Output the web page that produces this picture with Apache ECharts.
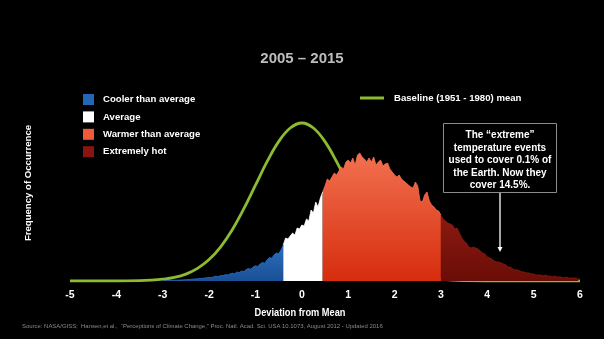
<!DOCTYPE html>
<html>
<head>
<meta charset="utf-8">
<script src="https://cdn.jsdelivr.net/npm/echarts@6/dist/echarts.min.js"></script>
<style>
html,body{margin:0;padding:0;background:#000;}
#c{width:604px;height:339px;}
</style>
</head>
<body>
<div id="c"></div>
<script>
// ---------- data ----------
const titleText = '2005 \u2013 2015';
const xTicks = [-5, -4, -3, -2, -1, 0, 1, 2, 3, 4, 5, 6];
const categoryNames = ['Cooler than average', 'Average', 'Warmer than average', 'Extremely hot'];
const baselineName = 'Baseline (1951 - 1980) mean';
// category boundaries (deviation from mean)
const coolEnd = -0.4, averageEnd = 0.45, warmEnd = 3.0;

// 2005-2015 frequency, sampled every 0.05 from -3.00 to 6.00
const devStart = -3.0, devStep = 0.05;
const freq2005 = [
  0.5,0.5,0.6,0.6,0.7,0.8,0.8,0.9,1.0,1.2,1.3,1.5,1.6,1.8,2.0,2.2,2.6,2.4,3.0,3.2,
  3.6,3.4,4.2,4.8,4.4,5.6,5.2,6.4,6.0,7.0,7.8,7.2,9.0,8.4,10.0,9.4,11.5,12.5,11.8,14.0,
  15.2,14.6,17.0,18.5,17.8,21.0,23.5,22.8,26.0,28.0,27.2,31.0,36.0,43.0,42.0,45.0,48.0,46.0,53.0,52.0,
  56,55,62,60,71,68,79,74,83,89,95,102,100,104,108,106,110,114,112,119,
  121,118,123,116,126,128,124,122,119,123,119,124,116,119,121,115,117,118,112,109,
  106,104,106,102,100,98,96,94,93,99,95,80,79,86,89,80,76,74,71,70,
  66,62,60,58,57,56,52,53,48,43,40,38,34,33,34,33,32,30,28,27,
  24,23,22,20,19,19,18,17,16,14,14,12,11,11,10,9,9,8,8,7,
  7,6,6,6,5,6,5,5,4,5,4,4,4,3,4,3,3,3,3,2,
  2
];

// baseline (1951-1980) curve
const baseDev = [-5,-4.5,-4,-3.5,-3.25,-3,-2.75,-2.5,-2.25,-2,-1.75,-1.5,-1.25,-1,-0.75,-0.5,-0.25,0,
                 0.25,0.5,0.75,1,1.25,1.5,1.75,2,2.25,2.5,2.75,3,3.25,3.5,4,4.5,5,6];
const baseFreq = [0,0,0,0.3,0.8,1.8,3.6,6.9,12.6,21.4,34.2,51.3,72.3,95.8,119.3,139.4,153,158,
                  153,139.4,119.3,95.8,72.3,51.3,34.2,21.4,12.6,6.9,3.6,1.8,0.8,0.3,0,0,0,0];

const xName = 'Deviation from Mean';
const yName = 'Frequency of Occurrence';
const sourceText = 'Source: NASA/GISS;  Hansen,et al.,  \u201cPerceptions of Climate Change,\u201d Proc. Natl. Acad. Sci. USA 10.1073, August 2012 - Updated 2016';
const noteLines = ['The \u201cextreme\u201d', 'temperature events', 'used to cover 0.1% of', 'the Earth. Now they', 'cover 14.5%.'];

// ---------- build ----------
const pts = freq2005.map((v, i) => [Math.round((devStart + i * devStep) * 100) / 100, v]);
const seg = (lo, hi) => pts.filter(p => p[0] >= lo - 1e-6 && p[0] <= hi + 1e-6);
const basePts = baseDev.map((d, i) => [d, baseFreq[i]]);

const FONT = "'Liberation Sans',Arial,sans-serif";
const grad = (a, b) => new echarts.graphic.LinearGradient(0, 0, 0, 1, [{offset: 0, color: a}, {offset: 1, color: b}]);
const areaSeries = (name, data, top, bot, solid) => ({
  name, type: 'line', data, showSymbol: false, symbol: 'none', z: 3,
  lineStyle: {width: 0.8, color: top},
  itemStyle: {color: solid},
  areaStyle: {color: grad(top, bot), opacity: 1},
  emphasis: {disabled: true}, animation: false
});

const chart = echarts.init(document.getElementById('c'), null, {renderer: 'canvas'});
chart.setOption({
  backgroundColor: '#000',
  animation: false,
  title: {
    text: titleText, left: 'center', top: 46,
    textStyle: {color: '#bdbdbd', fontSize: 15, fontWeight: 'bold', fontFamily: FONT}
  },
  legend: [
    {
      data: categoryNames, orient: 'vertical', left: 83, top: 94, padding: 0,
      icon: 'rect', itemWidth: 11, itemHeight: 11, itemGap: 6.4, selectedMode: false,
      textStyle: {color: '#fff', fontSize: 9.6, fontWeight: 'bold', fontFamily: FONT, padding: [0, 0, 0, 4]}
    },
    {
      data: [baselineName], left: 360, top: 93, padding: 0,
      icon: 'rect', itemWidth: 24, itemHeight: 3, selectedMode: false,
      textStyle: {color: '#fff', fontSize: 9.6, fontWeight: 'bold', fontFamily: FONT, padding: [0, 0, 0, 5]}
    }
  ],
  grid: {left: 70, right: 24, top: 121, bottom: 58},
  xAxis: {
    type: 'value', min: -5, max: 6, interval: 1,
    axisLine: {show: false}, axisTick: {show: false}, splitLine: {show: false},
    axisLabel: {color: '#fff', fontSize: 10.5, fontWeight: 'bold', fontFamily: FONT, margin: 9,
      formatter: v => xTicks.includes(v) ? String(v) : ''}
  },
  yAxis: {
    type: 'value', min: 0, max: 160, show: false
  },
  series: [
    {
      name: baselineName, type: 'line', data: basePts, smooth: 0.4, showSymbol: false, symbol: 'none', z: 2,
      lineStyle: {width: 2.8, color: '#8dbb2f'}, itemStyle: {color: '#8dbb2f'}, animation: false
    },
    areaSeries(categoryNames[0], seg(devStart, coolEnd), '#2c70c0', '#1a4f95', '#2167b5'),
    areaSeries(categoryNames[1], seg(coolEnd, averageEnd), '#ffffff', '#ffffff', '#ffffff'),
    areaSeries(categoryNames[2], seg(averageEnd, warmEnd), '#f2714f', '#d62d0e', '#ef5a3a'),
    areaSeries(categoryNames[3], seg(warmEnd, 6), '#8c1a12', '#6a0d06', '#8a1410')
  ],
  graphic: [
    {
      type: 'text', x: 300, y: 313, scaleX: 0.88,
      style: {text: xName, fill: '#fff', fontSize: 10.5, fontWeight: 'bold', fontFamily: FONT,
        align: 'center', verticalAlign: 'middle'}
    },
    {
      type: 'text', left: 22, top: 323,
      style: {text: sourceText, fill: '#8a8a8a', fontSize: 5.95, fontFamily: FONT}
    },
    {
      type: 'text', x: 28, y: 183, rotation: Math.PI / 2,
      style: {text: yName, fill: '#fff', fontSize: 9.6, fontWeight: 'bold', fontFamily: FONT,
        align: 'center', verticalAlign: 'middle'}
    },
    {
      type: 'rect', shape: {x: 443.5, y: 123.5, width: 113, height: 69},
      style: {fill: '#000', stroke: '#8c8c8c', lineWidth: 1}, z: 10
    },
    {
      type: 'text', x: 500, y: 160.5, z: 11,
      style: {text: noteLines.join('\n'), fill: '#fff', fontSize: 10, fontWeight: 'bold', fontFamily: FONT,
        align: 'center', verticalAlign: 'middle', lineHeight: 12.5}
    },
    {
      type: 'line', shape: {x1: 500, y1: 193, x2: 500, y2: 249}, z: 10,
      style: {stroke: '#fff', lineWidth: 1.3}
    },
    {
      type: 'polygon', shape: {points: [[497.5, 247], [502.5, 247], [500, 252]]}, z: 10,
      style: {fill: '#fff'}
    }
  ]
});
</script>
</body>
</html>
